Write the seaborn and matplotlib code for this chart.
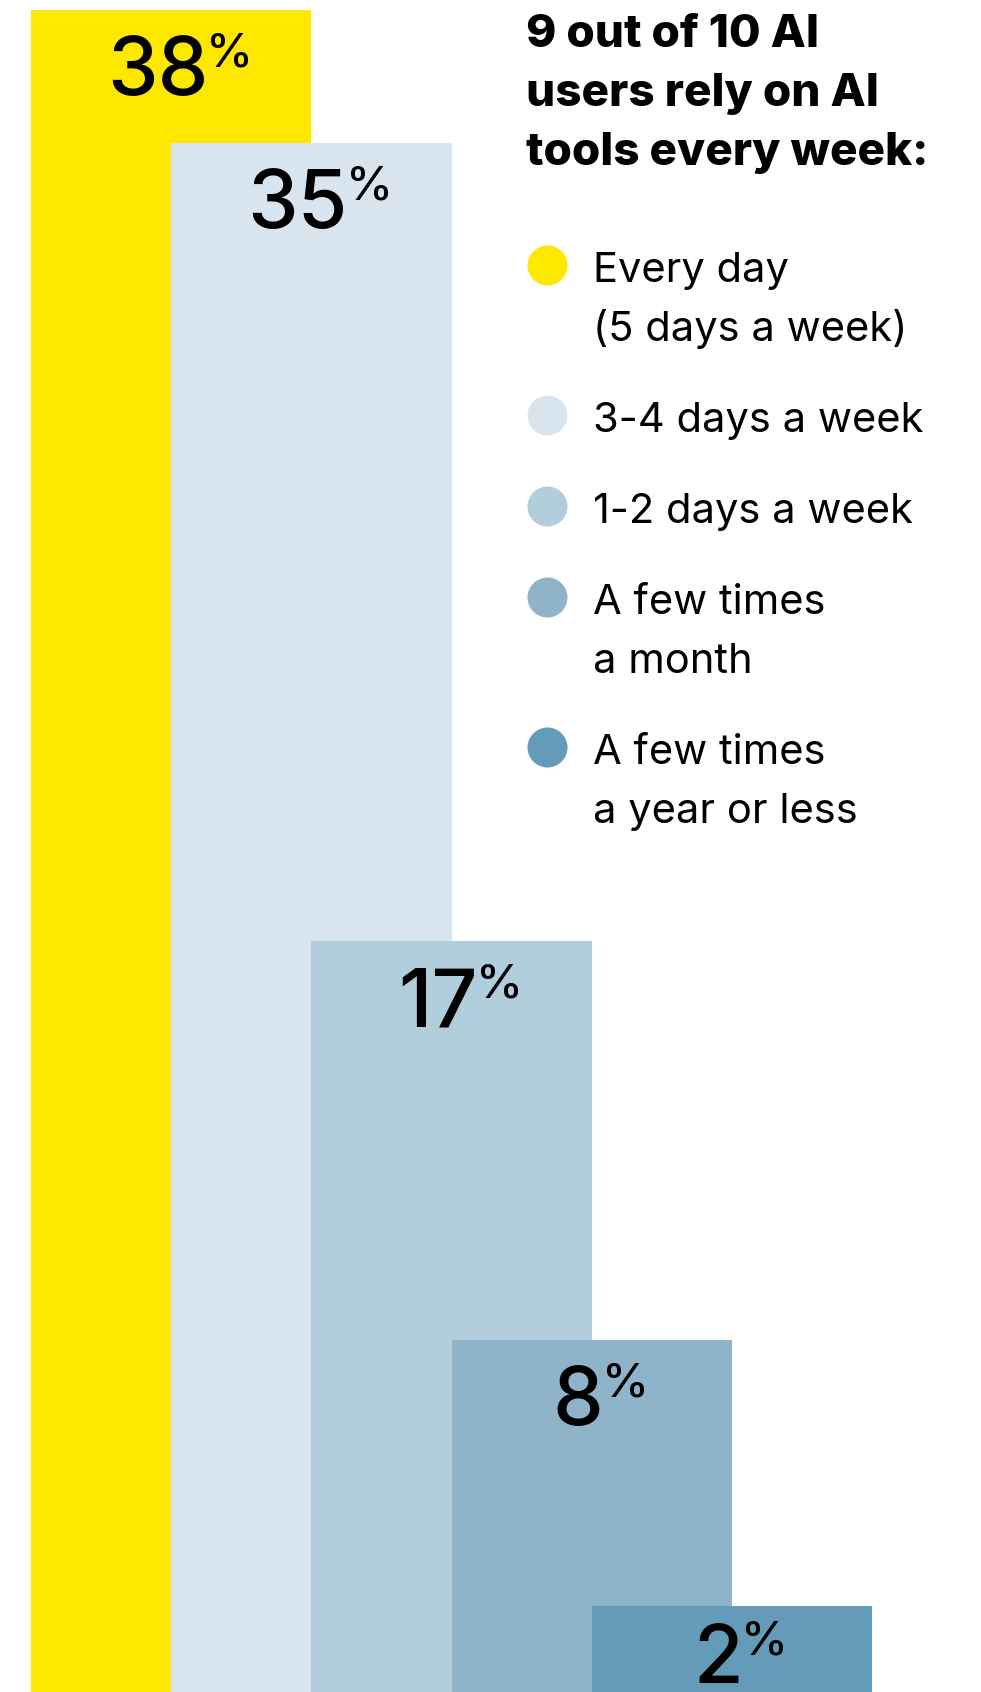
import matplotlib
matplotlib.use("Agg")
import matplotlib.pyplot as plt
from matplotlib.lines import Line2D
import pandas as pd
import seaborn as sns

# Survey answers: how often AI users rely on AI tools
categories = [
    "Every day\n(5 days a week)",
    "3-4 days a week",
    "1-2 days a week",
    "A few times\na month",
    "A few times\na year or less",
]
shares = [38, 35, 17, 8, 2]
colors = ["#FFE800", "#D9E5EE", "#B2CEDD", "#8FB4CA", "#639BB8"]
title_lines = ["9 out of 10 AI", "users rely on AI", "tools every week:"]

W, H = 981, 1692
PT = 72 / 100  # points per pixel at dpi 100

sns.set_theme(style="white")
plt.rcParams["font.family"] = ["Inter", "DejaVu Sans"]

fig = plt.figure(figsize=(W / 100, H / 100), dpi=100, facecolor="white")

# Overlapping bars: each bar spans two category slots
ax = fig.add_axes([31 / W, -3 / H, 841 / W, 1685 / H])
df = pd.DataFrame({"freq": categories, "share": shares})
sns.barplot(
    data=df, x="freq", y="share", hue="freq",
    order=categories, hue_order=categories, palette=colors,
    width=2, saturation=1, linewidth=0, legend=False, ax=ax,
)
ax.set_xlim(-1, 5)
ax.set_ylim(0, max(shares))
ax.set_axis_off()

# Value labels: big number with a raised percent sign, centred as a group
fig.canvas.draw()
renderer = fig.canvas.get_renderer()
y0 = ax.transData.transform((0, 0))[1]
RAISE = 29
for i, v in enumerate(shares):
    bar_px = ax.transData.transform((0, v))[1] - y0
    off = 85 if bar_px - 85 >= 12 else bar_px - 12
    num = ax.annotate(str(v), xy=(i, v), xytext=(0, -off * PT),
                      textcoords="offset points", ha="right", va="baseline",
                      fontsize=58, fontweight="medium", color="black")
    pct = ax.annotate("%", xy=(i, v), xytext=(0, (-off + RAISE) * PT),
                      textcoords="offset points", ha="left", va="baseline",
                      fontsize=34, fontweight="medium", color="black")
    wn = num.get_window_extent(renderer).width
    wp = pct.get_window_extent(renderer).width
    dx = (wn - wp) / 2 + 10
    num.xyann = (dx * PT, -off * PT)
    pct.xyann = ((dx - 2) * PT, (-off + RAISE) * PT)


def fx(px):
    return px / W


def fy(py):
    return 1 - py / H


# Title
for k, line in enumerate(title_lines):
    fig.text(fx(526), fy(47 + 59 * k), line, fontsize=33, fontweight="heavy",
             ha="left", va="baseline", color="black")

# Legend: coloured dots with wrapped labels
cursor = 282
for label, c in zip(categories, colors):
    lines = label.split("\n")
    fig.add_artist(Line2D([fx(547)], [fy(cursor - 17)], marker="o",
                          markersize=40 * PT, markeredgewidth=0,
                          color=c, linestyle="none",
                          transform=fig.transFigure))
    for k, line in enumerate(lines):
        fig.text(fx(593), fy(cursor + 59 * k), line, fontsize=30,
                 ha="left", va="baseline", color="black")
    cursor += 59 * len(lines) + 32

fig.savefig("out.png", dpi=100, facecolor="white")
